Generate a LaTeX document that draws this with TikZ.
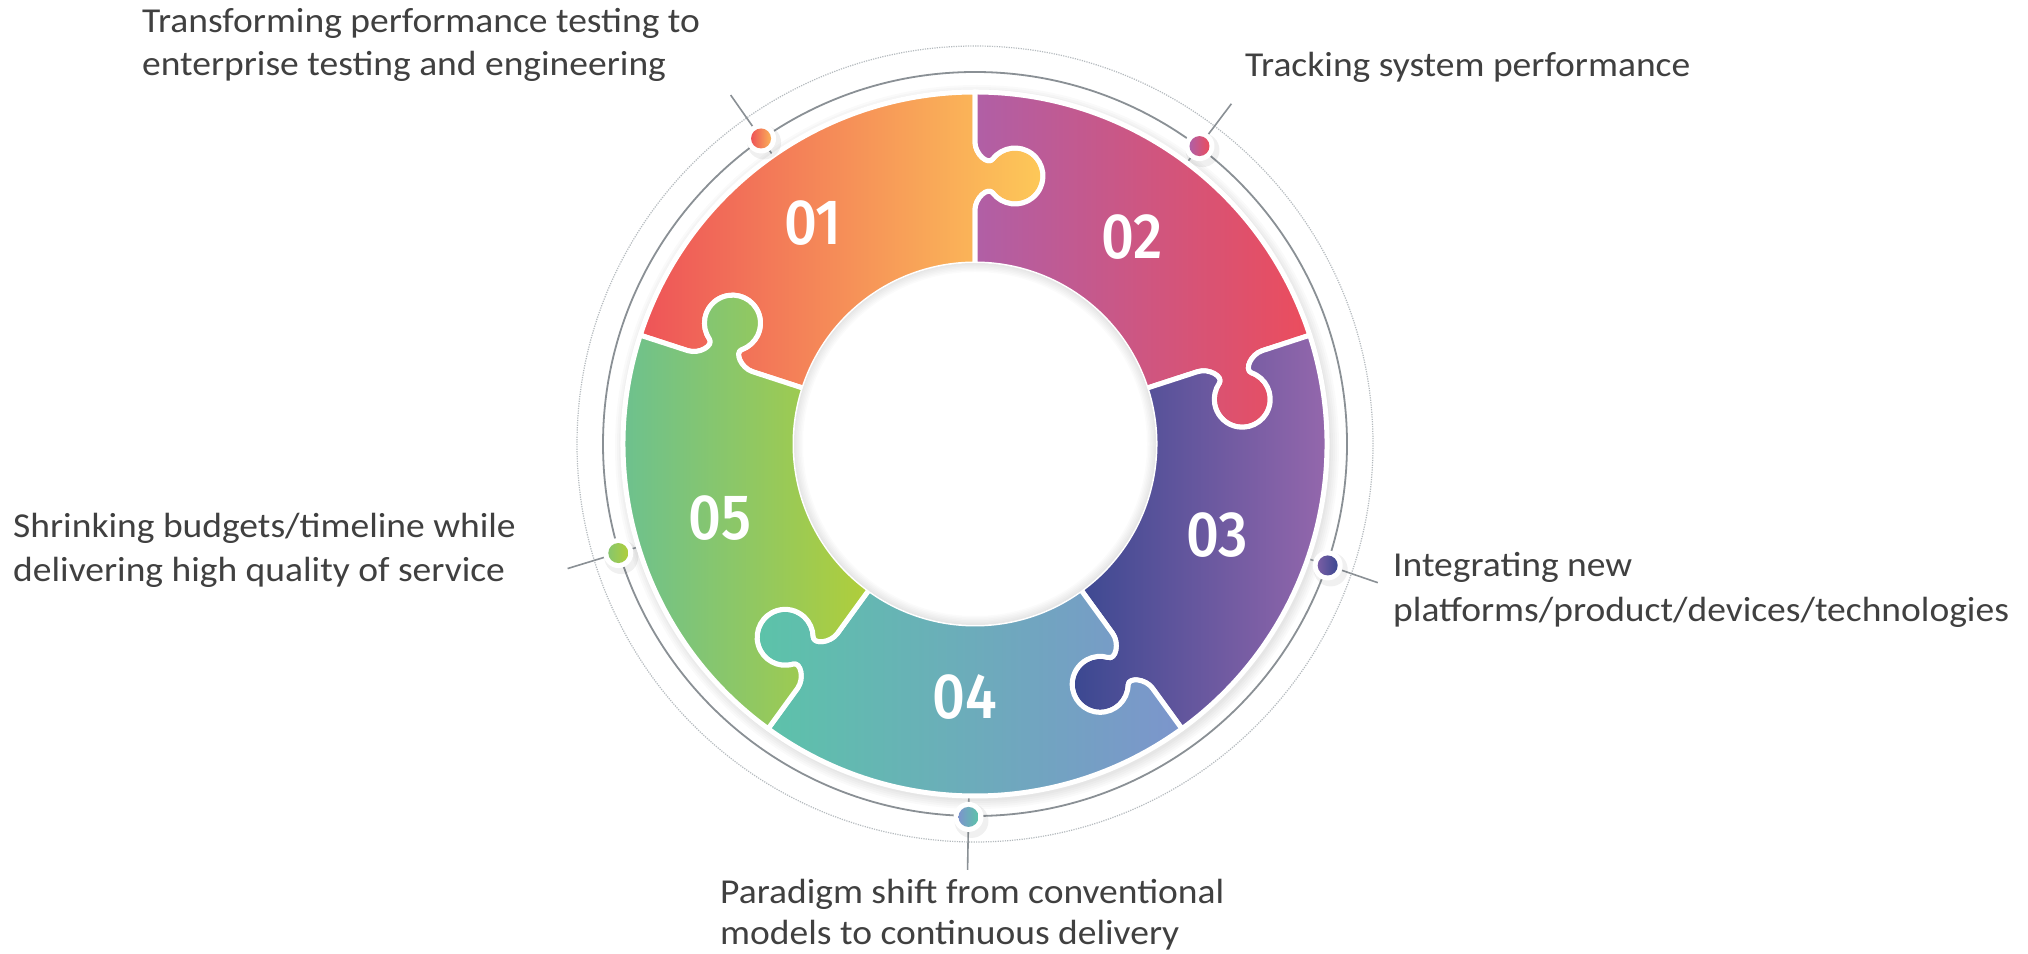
\documentclass[tikz,border=0pt]{standalone}
\usepackage{fontspec}
\setmainfont{Carlito}[FakeStretch=1.072]
\newfontfamily\numfont{Fira Sans}[UprightFont={* Medium}]
\usetikzlibrary{calc}
\definecolor{txtgray}{HTML}{404040}
\definecolor{ringgray}{HTML}{8A9095}
\definecolor{dotgray}{HTML}{B5BABE}
\definecolor{cAl}{HTML}{EE5458}\definecolor{cAr}{HTML}{FDC858}
\definecolor{cBl}{HTML}{B05FA6}\definecolor{cBr}{HTML}{EB4D5D}
\definecolor{cCl}{HTML}{3B4891}\definecolor{cCr}{HTML}{9467AC}
\definecolor{cDl}{HTML}{5CC3A9}\definecolor{cDr}{HTML}{7C95CC}
\definecolor{cEl}{HTML}{6DC18E}\definecolor{cEr}{HTML}{B0CE3A}
\def\piecepath{(0:180) -- (234,0) .. controls (246,0) and (257.4,-12.85) .. (251,-17.75) arc[start angle=127.4, end angle=412.6, radius=28] .. controls (278.6,-12.85) and (290,0) .. (302,0) -- (0:352) arc[start angle=0, end angle=72, radius=352] -- ([rotate=72]302,0) .. controls ([rotate=72]290,0) and ([rotate=72]278.6,-12.85) .. ([rotate=72]285,-17.75) arc[start angle=124.6, end angle=-160.6, radius=28] .. controls ([rotate=72]257.4,-12.85) and ([rotate=72]246,0) .. ([rotate=72]234,0) -- (72:180) arc[start angle=72, end angle=0, radius=180] -- cycle}
\newcommand\puzzlepiece[5]{%
  \begin{scope}[shift={(C)}, rotate=#1]
    \begin{scope}
      \clip \piecepath;
      \shade[rotate=-#1, left color=#4, right color=#5] (#2,-360) rectangle (#3,360);
    \end{scope}
    \draw[gap] \piecepath;
  \end{scope}}
\begin{document}
\begin{tikzpicture}[x=1pt,y=1pt,
  txt/.style={anchor=base west, inner sep=0pt, text=txtgray, font=\fontsize{35}{44}\selectfont},
  num/.style={text=white, inner sep=0pt, font=\numfont\fontsize{64}{64}\selectfont},
  gap/.style={draw=white, line width=5pt, line join=round},
  tickline/.style={draw=ringgray, line width=1.6pt},
  halo/.style={circle, fill=white, minimum size=30pt, inner sep=0pt},
  dotc/.style={circle, minimum size=20pt, inner sep=0pt}]
\useasboundingbox (0,0) rectangle (2028,953);
\fill[white] (0,0) rectangle (2028,953);
\coordinate (C) at (975,509);
% guide circles
\draw[dotgray, line width=1.2pt, dash pattern=on 1.2pt off 1.2pt] (C) circle[radius=398];
\draw[ringgray, line width=1.8pt] (C) circle[radius=372];
% soft shadow of the ring
\foreach \w in {4,8,12,16,20}
  \draw[black, opacity=0.018, line width=\w pt] ([shift={(2,-3)}]C) circle[radius=352];
% ticks
\foreach \a/\n in {125/1,53/2,-19/3,-91/4,-163/5} {
  \coordinate (ti\n) at ($(C)+(\a:350)$);
  \coordinate (to\n) at ($(C)+(\a:426)$);
  \draw[tickline] (ti\n) -- (to\n);
}
% pieces
\puzzlepiece{90}{-333}{66}{cAl}{cAr}
\puzzlepiece{18}{0}{333}{cBl}{cBr}
\puzzlepiece{-54}{98}{352}{cCl}{cCr}
\puzzlepiece{-126}{-217}{206}{cDl}{cDr}
\puzzlepiece{162}{-352}{-107}{cEl}{cEr}
% inner shadow of the hole
\begin{scope}
  \clip (C) circle[radius=181];
  \foreach \w in {3,6,9,12,15,18}
    \draw[black, opacity=0.015, line width=\w pt] (C) circle[radius=181];
\end{scope}
% dots
\foreach \a/\n in {125/1,53/2,-19/3,-91/4,-163/5} {
  \fill[black, opacity=0.06] ($(C)+(\a:373)+(3,-4)$) circle[radius=17];
  \node[halo] (h\n) at ($(C)+(\a:373)$) {};
}
\node[dotc, left color=cAl, right color=cAr!80!cAl] (d1) at (h1) {};
\node[dotc, left color=cBl, right color=cBr] (d2) at (h2) {};
\node[dotc, left color=cCr!70!cCl, right color=cCl] (d3) at (h3) {};
\node[dotc, left color=cDr, right color=cDl] (d4) at (h4) {};
\node[dotc, left color=cEl!60!cEr, right color=cEr] (d5) at (h5) {};
% numbers
\node[num] (n1) at (813,730) {\scalebox{0.9}[1]{01}};
\node[num] (n2) at (1132,716) {\scalebox{0.9}[1]{02}};
\node[num] (n3) at (1217,418) {\scalebox{0.9}[1]{03}};
\node[num] (n4) at (965,256) {\scalebox{0.9}[1]{04}};
\node[num] (n5) at (720,435) {\scalebox{0.9}[1]{05}};
% texts
\node[txt] (t1a) at (142,920) {Transforming performance testing to};
\node[txt] (t1b) at (142,877) {enterprise testing and engineering};
\node[txt] (t2) at (1245,876) {Tracking system performance};
\node[txt] (t3a) at (1393,376) {Integrating new};
\node[txt] (t3b) at (1393,331) {platforms/product/devices/technologies};
\node[txt] (t4a) at (720,50) {Paradigm shift from conventional};
\node[txt] (t4b) at (720,9) {models to continuous delivery};
\node[txt] (t5a) at (13,415) {Shrinking budgets/timeline while};
\node[txt] (t5b) at (13,371) {delivering high quality of service};
\end{tikzpicture}
\end{document}
